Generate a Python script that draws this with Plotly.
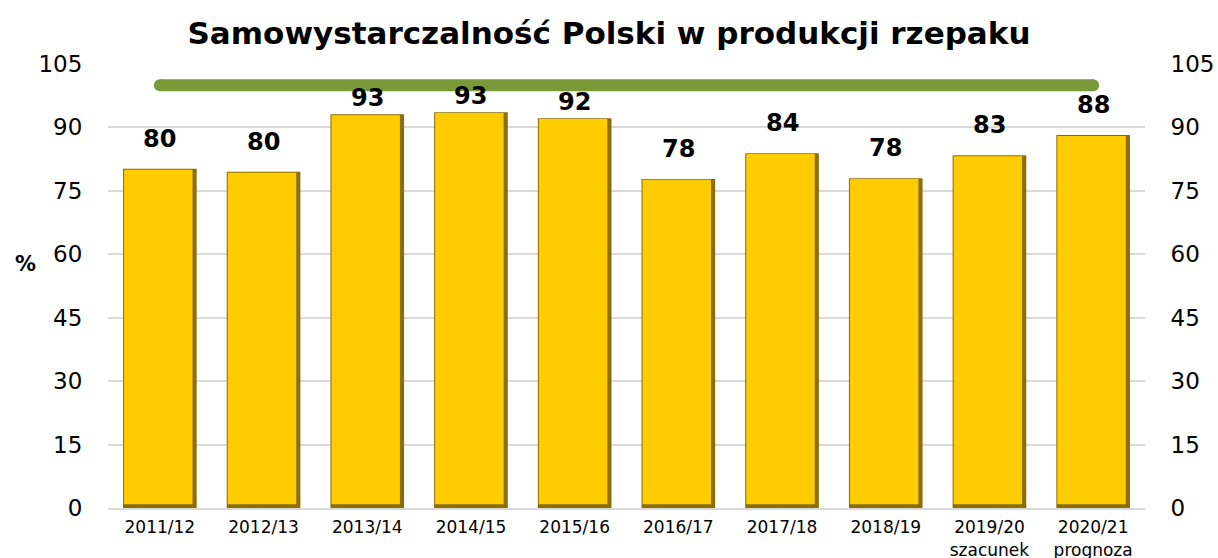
import plotly.graph_objects as go

categories = ["2011/12", "2012/13", "2013/14", "2014/15", "2015/16",
              "2016/17", "2017/18", "2018/19", "2019/20<br>szacunek", "2020/21<br>prognoza"]
values = [80.2, 79.5, 93.1, 93.6, 92.2, 77.8, 83.9, 78.0, 83.4, 88.2]
labels = ["80", "80", "93", "93", "92", "78", "84", "78", "83", "88"]
line_level = 100
tick_vals = [0, 15, 30, 45, 60, 75, 90, 105]

FONT = "DejaVu Sans"
BAR_W = 0.71

fig = go.Figure()
# dark outer bar (bevel shadow)
fig.add_trace(go.Bar(
    x=categories, y=values, width=BAR_W,
    marker=dict(color="#8C6E00", line=dict(width=0)),
    showlegend=False, hoverinfo="skip",
))
# bright inner bar, shifted left so a dark edge remains on the right and bottom
inner_base = 0.9
fig.add_trace(go.Bar(
    x=categories, y=[v - inner_base - 0.2 for v in values], base=inner_base,
    width=BAR_W - 0.05, offset=-BAR_W / 2 + 0.01,
    marker=dict(color="#FFCC00", line=dict(width=0)),
    showlegend=False, hoverinfo="skip",
))
fig.add_trace(go.Scatter(
    x=[categories[0], categories[-1]], y=[line_level, line_level],
    mode="lines+markers",
    line=dict(color="#7A9A3A", width=12),
    marker=dict(color="#7A9A3A", size=12),
    showlegend=False, hoverinfo="skip",
))
fig.add_trace(go.Scatter(
    x=[categories[0]], y=[0], yaxis="y2", mode="markers",
    marker=dict(opacity=0), showlegend=False, hoverinfo="skip",
))

for c, v, t in zip(categories, values, labels):
    shift = 16 if v > 90 else 30
    fig.add_annotation(x=c, y=v, text=t, showarrow=False, yshift=shift,
                       font=dict(family=FONT, size=24, color="black", weight="bold"))

fig.add_annotation(text="%", xref="paper", yref="paper", x=-0.08, y=0.55,
                   xanchor="center", yanchor="middle", showarrow=False,
                   font=dict(family=FONT, size=21, color="black", weight="bold"))

axis_y = dict(range=[0, 105], tickvals=tick_vals, showline=False,
              ticks="outside", ticklen=20, tickcolor="rgba(0,0,0,0)",
              tickfont=dict(family=FONT, size=23, color="black"), zeroline=False,
              automargin=False)

fig.update_layout(
    width=1218, height=558,
    margin=dict(l=108, r=73, t=64, b=50, autoexpand=False),
    paper_bgcolor="white", plot_bgcolor="white",
    barmode="overlay",
    title=dict(text="<b>Samowystarczalność Polski w produkcji rzepaku</b>",
               x=0.5, xanchor="center", y=0.94, yanchor="middle",
               font=dict(family=FONT, size=31, color="black")),
    xaxis=dict(range=[-0.5, len(categories) - 0.5],
               tickfont=dict(family=FONT, size=17, color="black"),
               showline=True, linecolor="#d9d9d9", linewidth=2,
               ticks="outside", ticklen=3, tickcolor="rgba(0,0,0,0)",
               automargin=False),
    yaxis=dict(**axis_y, showgrid=True, gridcolor="#d9d9d9", gridwidth=2),
    yaxis2=dict(**axis_y, overlaying="y", side="right", showgrid=False),
)

fig.write_html("out.html", config={"displayModeBar": False},
               post_script="document.body.style.margin='0';")
